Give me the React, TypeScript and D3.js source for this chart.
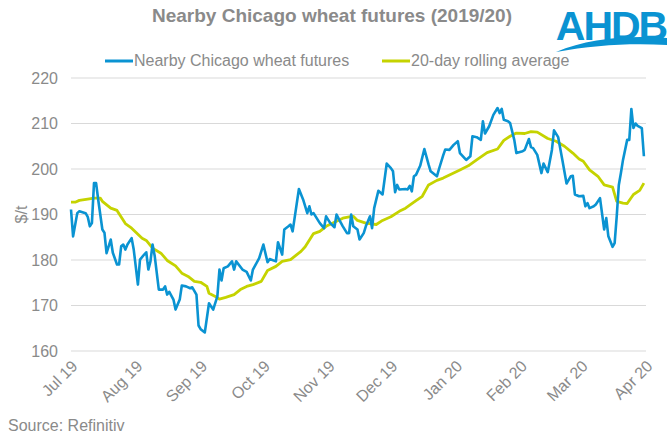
import React, { useEffect, useRef } from 'react';
import * as d3 from 'd3';

// Nearby Chicago wheat futures, $/t
const futuresDates = [
  '2019-07-01', '2019-07-02', '2019-07-04', '2019-07-05', '2019-07-08', '2019-07-09', '2019-07-10', '2019-07-11',
  '2019-07-12', '2019-07-13', '2019-07-14', '2019-07-16', '2019-07-17', '2019-07-18', '2019-07-20', '2019-07-21',
  '2019-07-23', '2019-07-24', '2019-07-25', '2019-07-26', '2019-07-27', '2019-07-28', '2019-07-30', '2019-07-31',
  '2019-08-02', '2019-08-03', '2019-08-05', '2019-08-06', '2019-08-07', '2019-08-08', '2019-08-09', '2019-08-10',
  '2019-08-12', '2019-08-14', '2019-08-15', '2019-08-16', '2019-08-17', '2019-08-19', '2019-08-20', '2019-08-22',
  '2019-08-23', '2019-08-25', '2019-08-27', '2019-08-28', '2019-08-30', '2019-08-31', '2019-09-01', '2019-09-03',
  '2019-09-05', '2019-09-07', '2019-09-09', '2019-09-10', '2019-09-11', '2019-09-12', '2019-09-14', '2019-09-16',
  '2019-09-17', '2019-09-18', '2019-09-21', '2019-09-23', '2019-09-25', '2019-09-26', '2019-09-29', '2019-10-01',
  '2019-10-03', '2019-10-04', '2019-10-07', '2019-10-08', '2019-10-10', '2019-10-11', '2019-10-13', '2019-10-14',
  '2019-10-15', '2019-10-18', '2019-10-20', '2019-10-22', '2019-10-23', '2019-10-24', '2019-10-25', '2019-10-28',
  '2019-10-30', '2019-10-31', '2019-11-02', '2019-11-04', '2019-11-05', '2019-11-06', '2019-11-08', '2019-11-10',
  '2019-11-11', '2019-11-12', '2019-11-13', '2019-11-15', '2019-11-16', '2019-11-18', '2019-11-19', '2019-11-21',
  '2019-11-22', '2019-11-23', '2019-11-25', '2019-11-27', '2019-11-29', '2019-12-01', '2019-12-02', '2019-12-03',
  '2019-12-04', '2019-12-05', '2019-12-08', '2019-12-09', '2019-12-10', '2019-12-11', '2019-12-12', '2019-12-13',
  '2019-12-15', '2019-12-17', '2019-12-19', '2019-12-20', '2019-12-23', '2019-12-24', '2019-12-26', '2019-12-27',
  '2019-12-29', '2019-12-31', '2020-01-02', '2020-01-03', '2020-01-06', '2020-01-08', '2020-01-09', '2020-01-11',
  '2020-01-13', '2020-01-14', '2020-01-15', '2020-01-17', '2020-01-19', '2020-01-21', '2020-01-22', '2020-01-23',
  '2020-01-24', '2020-01-26', '2020-01-27', '2020-01-29', '2020-01-30', '2020-02-02', '2020-02-03', '2020-02-05',
  '2020-02-06', '2020-02-07', '2020-02-09', '2020-02-11', '2020-02-12', '2020-02-14', '2020-02-16', '2020-02-17',
  '2020-02-19', '2020-02-21', '2020-02-23', '2020-02-25', '2020-02-26', '2020-02-27', '2020-02-29', '2020-03-02',
  '2020-03-03', '2020-03-04', '2020-03-05', '2020-03-07', '2020-03-08', '2020-03-10', '2020-03-12', '2020-03-13',
  '2020-03-14', '2020-03-16', '2020-03-17', '2020-03-18', '2020-03-19', '2020-03-20', '2020-03-21', '2020-03-23',
  '2020-03-24', '2020-03-25', '2020-03-26', '2020-03-27', '2020-03-28', '2020-03-30', '2020-03-31',
];
const futuresValues = [
  191.1, 185.2, 190.3, 190.7, 190.3, 189.5, 187.4, 188.1,
  196.9, 196.9, 193.3, 186.7, 186.0, 181.5, 184.5, 181.6,
  179.0, 179.0, 183.0, 183.4, 182.3, 183.4, 184.8, 182.3,
  174.6, 180.1, 181.2, 181.7, 177.9, 179.7, 183.4, 181.0,
  173.5, 173.5, 174.2, 172.4, 173.0, 171.3, 169.1, 171.3,
  174.4, 174.2, 173.8, 174.0, 172.4, 165.6, 164.8, 164.1,
  170.5, 169.1, 172.0, 177.9, 175.5, 178.2, 178.6, 179.7,
  177.9, 179.7, 177.9, 177.4, 175.5, 177.9, 180.4, 183.4,
  179.5, 180.2, 179.7, 183.9, 181.2, 186.7, 187.4, 187.8,
  186.3, 195.6, 193.3, 190.3, 191.8, 190.0, 190.3, 188.1,
  187.0, 189.6, 188.1, 187.2, 190.0, 189.1, 187.4, 185.9,
  185.9, 190.0, 187.4, 186.7, 184.5, 185.9, 187.4, 189.6,
  187.0, 191.4, 195.2, 194.4, 201.2, 200.2, 199.5, 194.9,
  196.5, 195.5, 195.6, 195.5, 196.3, 195.1, 198.4, 198.7,
  200.7, 204.4, 201.0, 199.5, 198.4, 200.0, 203.0, 204.3,
  204.2, 205.3, 206.1, 203.5, 202.0, 202.8, 207.2, 207.0,
  206.4, 210.5, 207.8, 209.4, 211.9, 213.4, 212.3, 213.2,
  210.8, 210.5, 210.1, 206.4, 203.5, 203.9, 204.2, 206.6,
  204.8, 204.6, 203.1, 199.1, 201.2, 199.3, 204.2, 208.5,
  207.0, 202.0, 196.8, 198.4, 198.5, 194.4, 194.0, 194.1,
  191.8, 192.5, 191.4, 191.8, 192.2, 193.6, 186.7, 189.2,
  185.2, 182.9, 183.7, 189.6, 196.5, 199.1, 202.0, 206.4,
  206.4, 213.2, 209.0, 210.0, 209.5, 209.0, 202.8,
];

// 20-day rolling average, $/t
const averageDates = [
  '2019-07-01', '2019-07-03', '2019-07-05', '2019-07-09', '2019-07-12', '2019-07-15', '2019-07-16', '2019-07-20',
  '2019-07-23', '2019-07-27', '2019-07-30', '2019-08-01', '2019-08-04', '2019-08-06', '2019-08-09', '2019-08-13',
  '2019-08-16', '2019-08-20', '2019-08-23', '2019-08-26', '2019-08-29', '2019-09-01', '2019-09-04', '2019-09-05',
  '2019-09-08', '2019-09-10', '2019-09-13', '2019-09-17', '2019-09-20', '2019-09-23', '2019-09-26', '2019-09-30',
  '2019-10-03', '2019-10-07', '2019-10-10', '2019-10-14', '2019-10-19', '2019-10-21', '2019-10-25', '2019-10-28',
  '2019-10-31', '2019-11-04', '2019-11-08', '2019-11-11', '2019-11-13', '2019-11-15', '2019-11-19', '2019-11-24',
  '2019-11-27', '2019-12-01', '2019-12-05', '2019-12-08', '2019-12-12', '2019-12-16', '2019-12-19', '2019-12-23',
  '2019-12-26', '2019-12-29', '2020-01-03', '2020-01-07', '2020-01-11', '2020-01-16', '2020-01-21', '2020-01-24',
  '2020-01-27', '2020-01-30', '2020-02-03', '2020-02-06', '2020-02-09', '2020-02-14', '2020-02-18', '2020-02-22',
  '2020-02-26', '2020-02-29', '2020-03-02', '2020-03-05', '2020-03-09', '2020-03-12', '2020-03-16', '2020-03-18',
  '2020-03-21', '2020-03-23', '2020-03-26', '2020-03-29', '2020-03-31',
];
const averageValues = [
  192.7, 192.7, 193.1, 193.4, 193.6, 193.6, 192.9, 191.4,
  190.9, 188.0, 187.0, 186.1, 184.8, 184.3, 182.6, 181.5,
  179.9, 178.7, 177.1, 176.4, 175.3, 175.1, 174.2, 172.7,
  172.0, 171.4, 171.8, 172.4, 173.5, 174.2, 174.6, 175.3,
  177.7, 178.6, 179.7, 180.1, 181.9, 182.9, 185.8, 186.3,
  187.4, 188.3, 189.2, 189.5, 189.6, 188.7, 188.1, 187.8,
  188.7, 189.5, 190.7, 191.4, 192.7, 194.0, 196.5, 197.5,
  198.0, 198.7, 199.8, 200.7, 202.0, 203.6, 204.4, 206.3,
  207.2, 207.9, 207.8, 208.2, 208.1, 206.7, 206.1, 205.0,
  203.5, 202.2, 201.7, 199.8, 198.4, 196.5, 196.0, 192.9,
  192.5, 192.4, 194.4, 195.3, 196.9,
];

const yTicks = [160, 170, 180, 190, 200, 210, 220];
const monthTicks = [
  '2019-07-01', '2019-08-01', '2019-09-01', '2019-10-01', '2019-11-01',
  '2019-12-01', '2020-01-01', '2020-02-01', '2020-03-01', '2020-04-01',
];

const seriesNames = ['Nearby Chicago wheat futures', '20-day rolling average'];
const seriesColors = ['#0a93d2', '#c5d300'];

const FONT = '"Liberation Sans", Arial, sans-serif';
const GREY = '#8a8a8a';
const LABEL_SIZE = 16;

type Pt = { date: Date; value: number };

const App: React.FC = () => {
  const ref = useRef<SVGSVGElement | null>(null);
  const width = 672;
  const height = 442;

  useEffect(() => {
    document.body.style.margin = '0';
    if (!ref.current) return;
    const svg = d3.select(ref.current);
    svg.selectAll('*').remove();

    const parse = d3.utcParse('%Y-%m-%d');
    const futures: Pt[] = futuresDates.map((d, i) => ({ date: parse(d)!, value: futuresValues[i] }));
    const average: Pt[] = averageDates.map((d, i) => ({ date: parse(d)!, value: averageValues[i] }));
    const ticks = monthTicks.map(d => parse(d)!);

    const margin = { top: 78, right: 26, bottom: 91, left: 71 };
    const innerWidth = width - margin.left - margin.right;
    const innerHeight = height - margin.top - margin.bottom;

    const x = d3
      .scaleUtc()
      .domain([ticks[0], ticks[ticks.length - 1]])
      .range([0, innerWidth]);

    const y = d3.scaleLinear().domain([160, 220]).range([innerHeight, 0]);

    // Title
    svg
      .append('text')
      .attr('x', 332)
      .attr('y', 22)
      .attr('text-anchor', 'middle')
      .attr('font-family', FONT)
      .attr('font-size', 19)
      .attr('font-weight', 'bold')
      .attr('fill', GREY)
      .text('Nearby Chicago wheat futures (2019/20)');

    // AHDB logo
    const logo = svg.append('g');
    logo
      .append('text')
      .attr('x', 611)
      .attr('y', 40)
      .attr('text-anchor', 'middle')
      .attr('font-family', FONT)
      .attr('font-size', 41)
      .attr('font-weight', 'bold')
      .attr('letter-spacing', -2)
      .attr('fill', '#0a93d2')
      .text('AHDB');
    logo
      .append('path')
      .attr('d', 'M556,52 C588,38 630,35 667,38 L667,45 C630,43 594,45 556,52 Z')
      .attr('fill', '#0a93d2');

    // Legend
    const legendItems = [
      { x: 105, textX: 134 },
      { x: 382, textX: 411 },
    ];
    legendItems.forEach((item, i) => {
      svg
        .append('line')
        .attr('x1', item.x)
        .attr('x2', item.x + 28)
        .attr('y1', 61)
        .attr('y2', 61)
        .attr('stroke', seriesColors[i])
        .attr('stroke-width', 3);
      svg
        .append('text')
        .attr('x', item.textX)
        .attr('y', 66)
        .attr('font-family', FONT)
        .attr('font-size', LABEL_SIZE)
        .attr('fill', GREY)
        .text(seriesNames[i]);
    });

    const g = svg.append('g').attr('transform', `translate(${margin.left},${margin.top})`);

    // Gridlines
    g.append('g')
      .selectAll('line')
      .data(yTicks)
      .enter()
      .append('line')
      .attr('x1', 0)
      .attr('x2', innerWidth)
      .attr('y1', d => y(d))
      .attr('y2', d => y(d))
      .attr('stroke', '#d9d9d9')
      .attr('stroke-width', 1);

    // Y axis
    const yAxis = g
      .append('g')
      .call(d3.axisLeft(y).tickValues(yTicks).tickSize(0).tickPadding(13));
    yAxis.select('.domain').remove();
    yAxis
      .selectAll('text')
      .attr('font-family', FONT)
      .attr('font-size', LABEL_SIZE)
      .attr('fill', GREY);

    svg
      .append('text')
      .attr('transform', `translate(27,${margin.top + y(190)}) rotate(-90)`)
      .attr('text-anchor', 'middle')
      .attr('font-family', FONT)
      .attr('font-size', LABEL_SIZE)
      .attr('fill', GREY)
      .text('$/t');

    // X axis
    const xAxis = g
      .append('g')
      .attr('transform', `translate(0,${innerHeight})`)
      .call(
        d3
          .axisBottom(x)
          .tickValues(ticks)
          .tickSize(0)
          .tickFormat(d3.utcFormat('%b %y') as any),
      );
    xAxis.select('.domain').remove();
    xAxis
      .selectAll('text')
      .attr('font-family', FONT)
      .attr('font-size', LABEL_SIZE)
      .attr('fill', GREY)
      .attr('text-anchor', 'end')
      .attr('dy', null)
      .attr('transform', 'translate(5,14) rotate(-45)');

    const line = d3
      .line<Pt>()
      .x(d => x(d.date))
      .y(d => y(d.value));

    g.append('path')
      .datum(average)
      .attr('fill', 'none')
      .attr('stroke', seriesColors[1])
      .attr('stroke-width', 2.8)
      .attr('stroke-linejoin', 'round')
      .attr('d', line);

    g.append('path')
      .datum(futures)
      .attr('fill', 'none')
      .attr('stroke', seriesColors[0])
      .attr('stroke-width', 2.6)
      .attr('stroke-linejoin', 'round')
      .attr('d', line);

    // Source
    svg
      .append('text')
      .attr('x', 8)
      .attr('y', 431)
      .attr('font-family', FONT)
      .attr('font-size', LABEL_SIZE)
      .attr('fill', GREY)
      .text('Source: Refinitiv');
  }, []);

  return <svg ref={ref} width={width} height={height} style={{ display: 'block' }} />;
};

export default App;
